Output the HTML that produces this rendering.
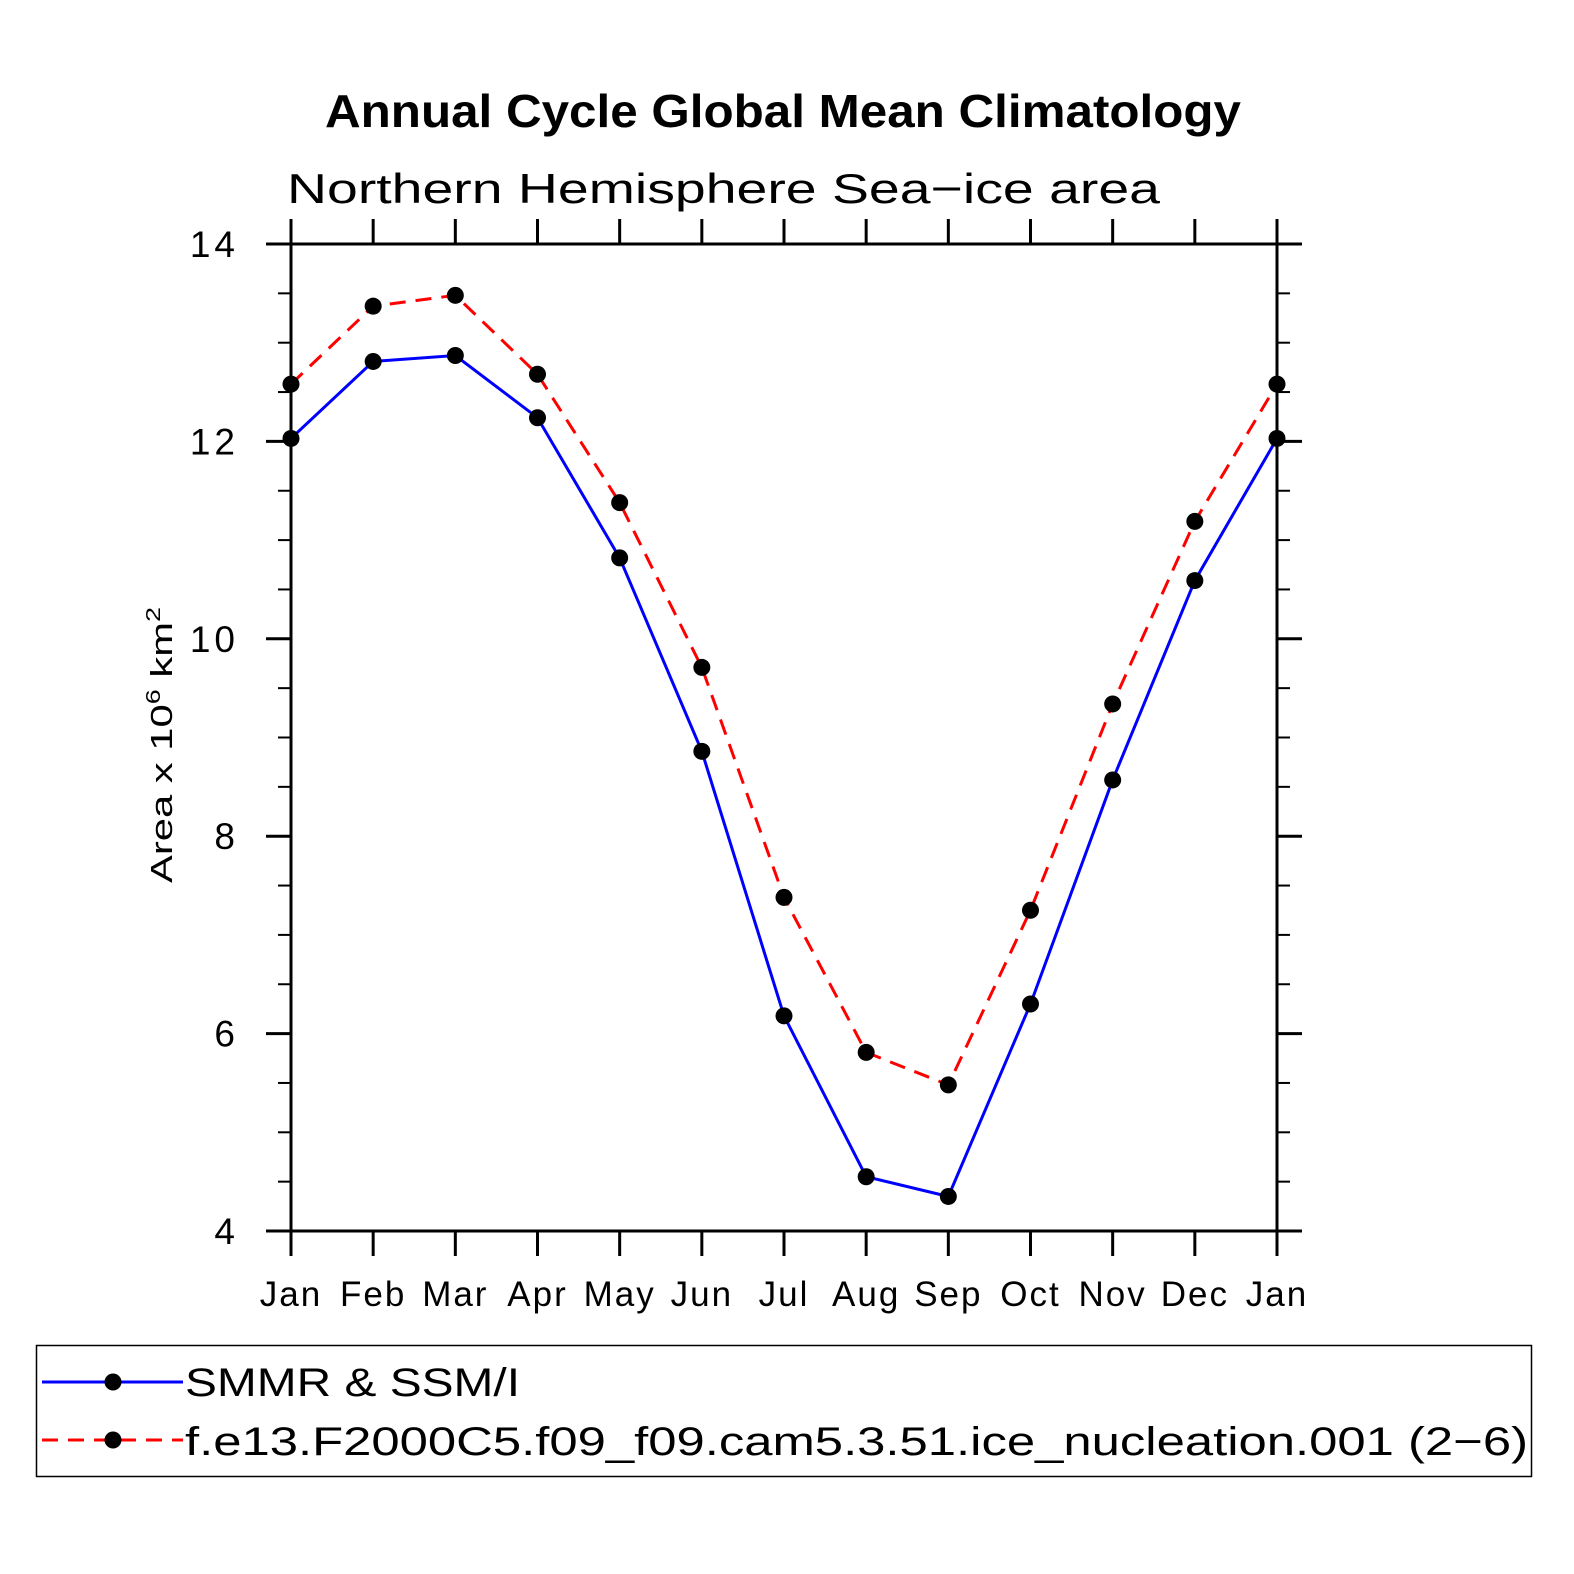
<!DOCTYPE html>
<html><head><meta charset="utf-8"><style>
html,body{margin:0;padding:0;background:#fff}
svg{display:block}
text{font-family:"Liberation Sans",sans-serif;fill:#000}
</style></head><body>
<svg id="chart" width="1574" height="1574" viewBox="0 0 1574 1574" xmlns="http://www.w3.org/2000/svg">
<text x="783" y="127" text-anchor="middle" font-size="46" font-weight="bold" textLength="916" lengthAdjust="spacingAndGlyphs">Annual Cycle Global Mean Climatology</text>
<text x="287" y="203" font-size="42" textLength="873" lengthAdjust="spacingAndGlyphs">Northern Hemisphere Sea−ice area</text>
<text transform="translate(172,745) rotate(-90)" text-anchor="middle" font-size="31" textLength="276" lengthAdjust="spacingAndGlyphs">Area x 10<tspan dy="-12" font-size="20">6</tspan><tspan dy="12"> km</tspan><tspan dy="-12" font-size="20">2</tspan></text>
<g id="axes"></g>
<g id="series"></g>
<rect x="36.5" y="1345.5" width="1495" height="131" fill="none" stroke="#000" stroke-width="1.5"/>
<g>
<line x1="42" y1="1382" x2="183" y2="1382" stroke="#0000ff" stroke-width="3"/>
<circle cx="113" cy="1382" r="8.5" fill="#000"/>
<text x="185" y="1396" font-size="40" textLength="335" lengthAdjust="spacingAndGlyphs">SMMR &amp; SSM/I</text>
</g>
<g>
<line x1="42" y1="1440" x2="183" y2="1440" stroke="#ff0000" stroke-width="3" stroke-dasharray="16,10"/>
<circle cx="113" cy="1440" r="8.5" fill="#000"/>
<text x="185" y="1455" font-size="40" textLength="1343" lengthAdjust="spacingAndGlyphs">f.e13.F2000C5.f09_f09.cam5.3.51.ice_nucleation.001 (2−6)</text>
</g>
</svg>
<script>
const months = ["Jan","Feb","Mar","Apr","May","Jun","Jul","Aug","Sep","Oct","Nov","Dec","Jan"];
const smmr = [12.03,12.81,12.87,12.24,10.82,8.86,6.18,4.55,4.35,6.30,8.57,10.59,12.03];
const model = [12.58,13.37,13.48,12.68,11.38,9.71,7.38,5.81,5.48,7.25,9.34,11.19,12.58];
const yTicks = [4,6,8,10,12,14];

const X0=291,X1=1277,Y0=1231,Y1=244,YMIN=4,YMAX=14;
const NS="http://www.w3.org/2000/svg";
function xs(i){return X0+(X1-X0)*i/(months.length-1);}
function ys(v){return Y0-(Y0-Y1)*(v-YMIN)/(YMAX-YMIN);}
function mk(tag,attrs,parent){const e=document.createElementNS(NS,tag);for(const k in attrs)e.setAttribute(k,attrs[k]);parent.appendChild(e);return e;}

const axes=document.getElementById('axes');
const frame=mk('rect',{x:X0,y:Y1,width:X1-X0,height:Y0-Y1,fill:'none',stroke:'#000','stroke-width':3},axes);


months.forEach((m,i)=>{
  const x=xs(i);
  mk('line',{x1:x,y1:Y0,x2:x,y2:Y0+25,stroke:'#000','stroke-width':3},axes);
  mk('line',{x1:x,y1:Y1,x2:x,y2:Y1-25,stroke:'#000','stroke-width':3},axes);
  const t=mk('text',{x:x,y:Y0+75,'text-anchor':'middle','font-size':35,'letter-spacing':2},axes);
  t.textContent=m;
  
  
});
for(let v=YMIN;v<=YMAX+1e-9;v+=0.5){
  const y=ys(v);const major=Math.abs(v-Math.round(v/2)*2)<1e-9;
  const len=major?25:13;
  mk('line',{x1:X0-len,y1:y,x2:X0,y2:y,stroke:'#000','stroke-width':major?3:2},axes);
  mk('line',{x1:X1,y1:y,x2:X1+len,y2:y,stroke:'#000','stroke-width':major?3:2},axes);
}
yTicks.forEach(v=>{
  const t=mk('text',{x:239,y:ys(v)+13,'text-anchor':'end','font-size':37,'letter-spacing':4},axes);
  t.textContent=String(v);
  
  
});
const sg=document.getElementById('series');
function drawSeries(vals,color,dash,name){
  const pts=vals.map((v,i)=>xs(i)+','+ys(v)).join(' ');
  const pl=mk('polyline',{points:pts,fill:'none',stroke:color,'stroke-width':3},sg);
  if(dash)pl.setAttribute('stroke-dasharray',dash);
  
  
  vals.forEach((v,i)=>{
    const c=mk('circle',{cx:xs(i),cy:ys(v),r:8.5,fill:'#000'},sg);
    
    
  });
}
drawSeries(smmr,'#0000ff',null,'smmr');
drawSeries(model,'#ff0000','16,10','model');
</script>
</body></html>
